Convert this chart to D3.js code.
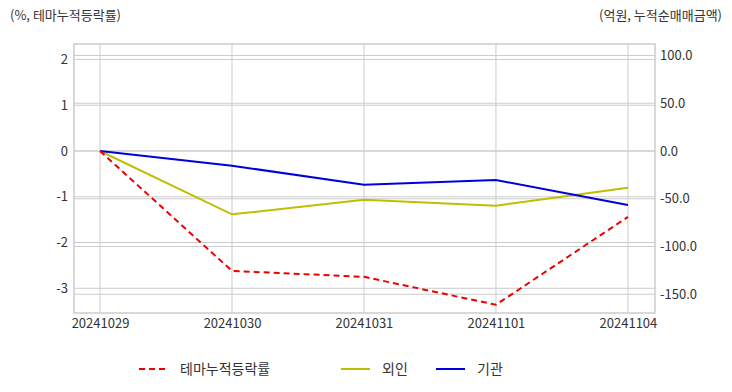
<!DOCTYPE html>
<html>
<head>
<meta charset="utf-8">
<script src="https://cdn.jsdelivr.net/npm/d3@7"></script>
<style>
  body { margin: 0; background: #fff; }
  text { font-family: "Noto Sans CJK KR", "Noto Sans", sans-serif; fill: #333; }
</style>
</head>
<body>
<div id="chart"></div>
<script>
// data
const dates = ['20241029', '20241030', '20241031', '20241101', '20241104'];
const themeRate = [0, -2.62, -2.75, -3.36, -1.44];   // left axis, %
const foreign = [0, -66.3, -51.0, -57.3, -38.4];     // right axis, 억원
const institution = [0, -15.4, -35.3, -30.4, -56.5]; // right axis, 억원
const leftTicks = [2, 1, 0, -1, -2, -3];
const rightTicks = [100, 50, 0, -50, -100, -150];

const W = 732, H = 392;
const margin = {top: 44, right: 77, bottom: 79, left: 74};
const width = W - margin.left - margin.right;
const height = H - margin.top - margin.bottom;

const svg = d3.select('#chart').append('svg')
  .attr('width', W)
  .attr('height', H);

const g = svg.append('g')
  .attr('transform', 'translate(' + margin.left + ',' + margin.top + ')');

const x = d3.scaleLinear()
  .domain([-0.197, dates.length - 1 + 0.205])
  .range([0, width]);

const yL = d3.scaleLinear().domain([-3.54, 2.338]).range([height, 0]);
const yR = d3.scaleLinear().domain([-169.6, 112]).range([height, 0]);

// grid lines
const gridColor = '#cccccc';
g.selectAll('.vgrid').data(dates).enter().append('line')
  .attr('x1', (d, i) => x(i)).attr('x2', (d, i) => x(i))
  .attr('y1', 0).attr('y2', height)
  .attr('stroke', gridColor);
g.selectAll('.lgrid').data(leftTicks).enter().append('line')
  .attr('x1', 0).attr('x2', width)
  .attr('y1', d => yL(d)).attr('y2', d => yL(d))
  .attr('stroke', gridColor);
g.selectAll('.rgrid').data(rightTicks).enter().append('line')
  .attr('x1', 0).attr('x2', width)
  .attr('y1', d => yR(d)).attr('y2', d => yR(d))
  .attr('stroke', gridColor);

// frame
g.append('rect')
  .attr('width', width).attr('height', height)
  .attr('fill', 'none')
  .attr('stroke', '#cccccc')
  .attr('stroke-width', 1.5);

// axes
const axL = g.append('g')
  .call(d3.axisLeft(yL).tickValues(leftTicks).tickSize(0).tickPadding(6)
    .tickFormat(d => String(d)));
const axR = g.append('g')
  .attr('transform', 'translate(' + width + ',0)')
  .call(d3.axisRight(yR).tickValues(rightTicks).tickSize(0).tickPadding(5)
    .tickFormat(d => d.toFixed(1)));
const axB = g.append('g')
  .attr('transform', 'translate(0,' + height + ')')
  .call(d3.axisBottom(x).tickValues(d3.range(dates.length)).tickSize(0).tickPadding(6)
    .tickFormat(i => dates[i]));
[axL, axR, axB].forEach(a => {
  a.select('.domain').remove();
  a.selectAll('text').style('font-size', '13px').attr('fill', '#333');
});

// lines
const lineL = d3.line().x((d, i) => x(i)).y(d => yL(d));
const lineR = d3.line().x((d, i) => x(i)).y(d => yR(d));

g.append('path').datum(foreign)
  .attr('d', lineR).attr('fill', 'none')
  .attr('stroke', '#bfbf00').attr('stroke-width', 2);
g.append('path').datum(institution)
  .attr('d', lineR).attr('fill', 'none')
  .attr('stroke', '#0000dd').attr('stroke-width', 2);
g.append('path').datum(themeRate)
  .attr('d', lineL).attr('fill', 'none')
  .attr('stroke', '#ee0000').attr('stroke-width', 2)
  .attr('stroke-dasharray', '6,4');

// axis titles
svg.append('text').attr('x', 10).attr('y', 20)
  .style('font-size', '13px').text('(%, 테마누적등락률)');
svg.append('text').attr('x', 722).attr('y', 20)
  .attr('text-anchor', 'end')
  .style('font-size', '13px').text('(억원, 누적순매매금액)');

// legend
const legend = [
  {name: '테마누적등락률', color: '#ee0000', dash: '6,4', x: 139},
  {name: '외인', color: '#bfbf00', dash: null, x: 341},
  {name: '기관', color: '#0000dd', dash: null, x: 436}
];
const lg = svg.append('g').attr('transform', 'translate(0,369)');
legend.forEach(item => {
  lg.append('line')
    .attr('x1', item.x).attr('x2', item.x + 29)
    .attr('y1', 0).attr('y2', 0)
    .attr('stroke', item.color).attr('stroke-width', 2)
    .attr('stroke-dasharray', item.dash);
  lg.append('text')
    .attr('x', item.x + 41).attr('y', 5)
    .style('font-size', '14px')
    .text(item.name);
});
</script>
</body>
</html>
